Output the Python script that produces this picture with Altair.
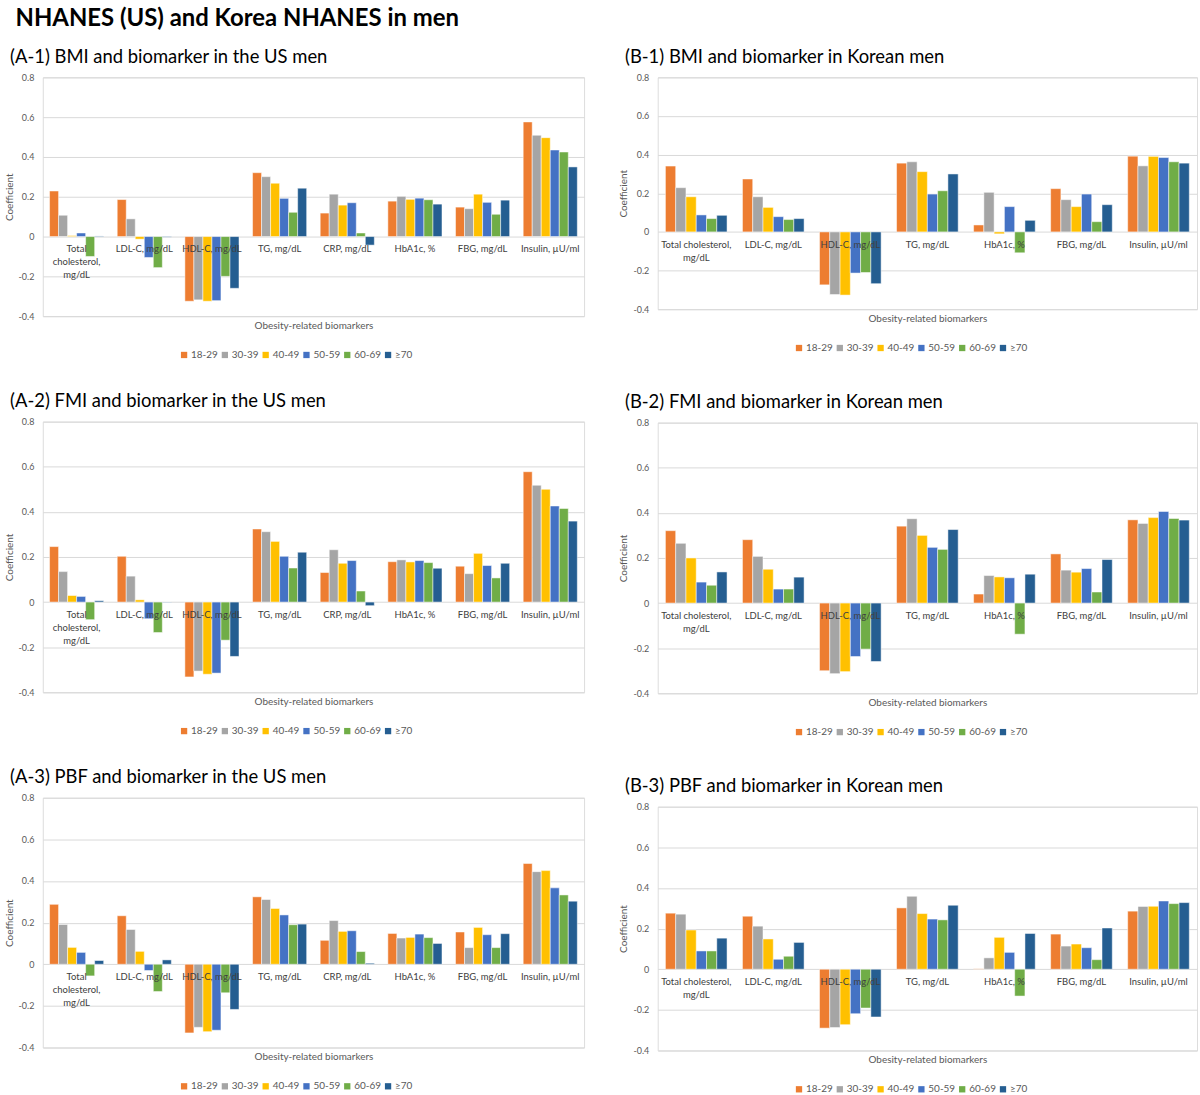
import altair as alt
import pandas as pd

ages = ["18-29", "30-39", "40-49", "50-59", "60-69", "≥70"]
colors = ["#ED7D31", "#A5A5A5", "#FFC000", "#4472C4", "#70AD47", "#255E91"]

us_markers = ["Total cholesterol, mg/dL", "LDL-C, mg/dL", "HDL-C, mg/dL", "TG, mg/dL",
              "CRP, mg/dL", "HbA1c, %", "FBG, mg/dL", "Insulin, µU/ml"]
us_labels = ["Total\ncholesterol,\nmg/dL", "LDL-C, mg/dL", "HDL-C, mg/dL", "TG, mg/dL",
             "CRP, mg/dL", "HbA1c, %", "FBG, mg/dL", "Insulin, µU/ml"]
kr_markers = ["Total cholesterol, mg/dL", "LDL-C, mg/dL", "HDL-C, mg/dL", "TG, mg/dL",
              "HbA1c, %", "FBG, mg/dL", "Insulin, µU/ml"]
kr_labels = ["Total cholesterol,\nmg/dL", "LDL-C, mg/dL", "HDL-C, mg/dL", "TG, mg/dL",
             "HbA1c, %", "FBG, mg/dL", "Insulin, µU/ml"]

# rows = biomarkers, columns = age groups
a1_values = [
    [0.229, 0.107, 0.005, 0.018, -0.100, 0.003],
    [0.186, 0.089, -0.013, -0.105, -0.156, -0.003],
    [-0.325, -0.318, -0.325, -0.322, -0.200, -0.260],
    [0.321, 0.301, 0.268, 0.192, 0.122, 0.243],
    [0.118, 0.213, 0.158, 0.170, 0.018, -0.043],
    [0.178, 0.202, 0.187, 0.193, 0.185, 0.163],
    [0.148, 0.140, 0.213, 0.172, 0.112, 0.183],
    [0.576, 0.509, 0.497, 0.435, 0.425, 0.350],
]
b1_values = [
    [0.341, 0.229, 0.182, 0.088, 0.069, 0.086],
    [0.274, 0.182, 0.127, 0.079, 0.064, 0.069],
    [-0.274, -0.324, -0.327, -0.213, -0.210, -0.268],
    [0.356, 0.363, 0.312, 0.196, 0.213, 0.300],
    [0.036, 0.205, -0.010, 0.131, -0.108, 0.060],
    [0.224, 0.167, 0.131, 0.196, 0.053, 0.141],
    [0.392, 0.342, 0.391, 0.385, 0.363, 0.356],
]
a2_values = [
    [0.246, 0.135, 0.029, 0.025, -0.078, 0.006],
    [0.203, 0.115, 0.010, -0.074, -0.135, -0.002],
    [-0.332, -0.306, -0.320, -0.315, -0.169, -0.241],
    [0.324, 0.312, 0.269, 0.203, 0.151, 0.221],
    [0.131, 0.232, 0.172, 0.184, 0.049, -0.016],
    [0.179, 0.187, 0.178, 0.184, 0.175, 0.150],
    [0.159, 0.126, 0.216, 0.162, 0.107, 0.172],
    [0.578, 0.518, 0.500, 0.426, 0.415, 0.359],
]
b2_values = [
    [0.321, 0.265, 0.200, 0.093, 0.079, 0.138],
    [0.281, 0.207, 0.150, 0.062, 0.062, 0.115],
    [-0.300, -0.313, -0.304, -0.237, -0.204, -0.259],
    [0.341, 0.374, 0.300, 0.247, 0.238, 0.326],
    [0.040, 0.122, 0.116, 0.112, -0.138, 0.128],
    [0.218, 0.146, 0.137, 0.153, 0.049, 0.193],
    [0.369, 0.353, 0.379, 0.406, 0.375, 0.368],
]
a3_values = [
    [0.288, 0.191, 0.081, 0.057, -0.056, 0.018],
    [0.233, 0.167, 0.062, -0.030, -0.131, 0.021],
    [-0.330, -0.303, -0.324, -0.317, -0.137, -0.217],
    [0.324, 0.311, 0.268, 0.237, 0.190, 0.193],
    [0.115, 0.210, 0.158, 0.161, 0.061, 0.005],
    [0.148, 0.126, 0.129, 0.145, 0.128, 0.100],
    [0.155, 0.080, 0.177, 0.142, 0.080, 0.147],
    [0.484, 0.445, 0.450, 0.367, 0.333, 0.303],
]
b3_values = [
    [0.276, 0.271, 0.193, 0.090, 0.090, 0.153],
    [0.261, 0.212, 0.149, 0.049, 0.064, 0.132],
    [-0.290, -0.287, -0.273, -0.219, -0.191, -0.235],
    [0.302, 0.359, 0.274, 0.247, 0.243, 0.315],
    [0.002, 0.056, 0.157, 0.083, -0.132, 0.176],
    [0.173, 0.114, 0.124, 0.106, 0.047, 0.203],
    [0.286, 0.309, 0.310, 0.336, 0.323, 0.328],
]

y_ticks = [-0.4, -0.2, 0, 0.2, 0.4, 0.6, 0.8]
FONT = "Lato"
GREY = "#595959"


def panel(title, markers, labels, rows, width, height):
    df = pd.DataFrame(
        [{"marker": m, "age": a, "value": v}
         for m, r in zip(markers, rows) for a, v in zip(ages, r)]
    )
    lab = pd.DataFrame({"marker": markers, "label": labels})
    x = alt.X(
        "marker:N", sort=markers,
        scale=alt.Scale(paddingInner=0.2, paddingOuter=0.1),
        axis=alt.Axis(title="Obesity-related biomarkers", labels=False, ticks=False,
                      domain=False, titleFontSize=10, titleFont=FONT,
                      titleFontWeight="normal", titleColor=GREY, titlePadding=4),
    )
    y = alt.Y(
        "value:Q",
        scale=alt.Scale(domain=[-0.4, 0.8], nice=False, zero=False),
        axis=alt.Axis(values=y_ticks, tickCount=12, labelOverlap=False, title="Coefficient",
                      labelExpr="datum.value == 0 ? '0' : toString(round(datum.value*10)/10)",
                      grid=True, gridColor="#D9D9D9", gridWidth=1, domain=False, ticks=False,
                      labelPadding=9, labelFontSize=9, labelFont=FONT, labelColor=GREY,
                      titleFontSize=10, titleFont=FONT, titleFontWeight="normal",
                      titleColor=GREY, titlePadding=4),
    )
    bars = alt.Chart(df).mark_bar(stroke="white", strokeWidth=0.5).encode(
        x=x,
        xOffset=alt.XOffset("age:N", sort=ages,
                            scale=alt.Scale(paddingInner=0, paddingOuter=0)),
        y=y,
        color=alt.Color(
            "age:N", sort=ages,
            scale=alt.Scale(domain=ages, range=colors),
            legend=alt.Legend(orient="none", legendX=137, legendY=height + 34,
                              direction="horizontal", columns=6, title=None,
                              symbolType="square", symbolSize=40, symbolStrokeWidth=0,
                              labelFontSize=10, labelFont=FONT, labelColor=GREY,
                              columnPadding=2, labelOffset=2),
        ),
    )
    text = alt.Chart(lab).mark_text(
        baseline="top", dy=8, lineBreak="\n", fontSize=9.5, font=FONT,
        color="#404040", lineHeight=13,
    ).encode(x=x, y=alt.datum(0), text="label:N")
    return alt.layer(bars, text).properties(
        width=width, height=height,
        title=alt.TitleParams(title, anchor="start", frame="bounds", fontSize=18.5,
                              font=FONT, fontWeight="normal", color="#000000",
                              dx=6, offset=7),
    )


a1 = panel("(A-1) BMI and biomarker in the US men", us_markers, us_labels, a1_values, 544, 240)
a2 = panel("(A-2) FMI and biomarker in the US men", us_markers, us_labels, a2_values, 544, 272)
a3 = panel("(A-3) PBF and biomarker in the US men", us_markers, us_labels, a3_values, 544, 251)
b1 = panel("(B-1) BMI and biomarker in Korean men", kr_markers, kr_labels, b1_values, 542, 233)
b2 = panel("(B-2) FMI and biomarker in Korean men", kr_markers, kr_labels, b2_values, 542, 272)
b3 = panel("(B-3) PBF and biomarker in Korean men", kr_markers, kr_labels, b3_values, 542, 245)

indep = dict(x="independent", y="independent", color="independent", xOffset="independent")

left = alt.vconcat(a1, a2, a3, spacing=31).resolve_scale(**indep)
right = alt.vconcat(b1, b2, b3, spacing=39).resolve_scale(**indep)

chart = (
    alt.hconcat(left, right, spacing=33)
    .resolve_scale(**indep)
    .properties(
        title=alt.TitleParams("NHANES (US) and Korea NHANES in men", anchor="start",
                              fontSize=24, fontWeight="bold", font=FONT,
                              color="#000000", dx=12, offset=17),
        padding={"left": 3, "top": 4, "right": 2, "bottom": 0},
    )
    .configure_view(stroke=None)
    .configure(font=FONT, background="white")
)

chart.save("out.html", embed_options={"renderer": "svg", "actions": False})
